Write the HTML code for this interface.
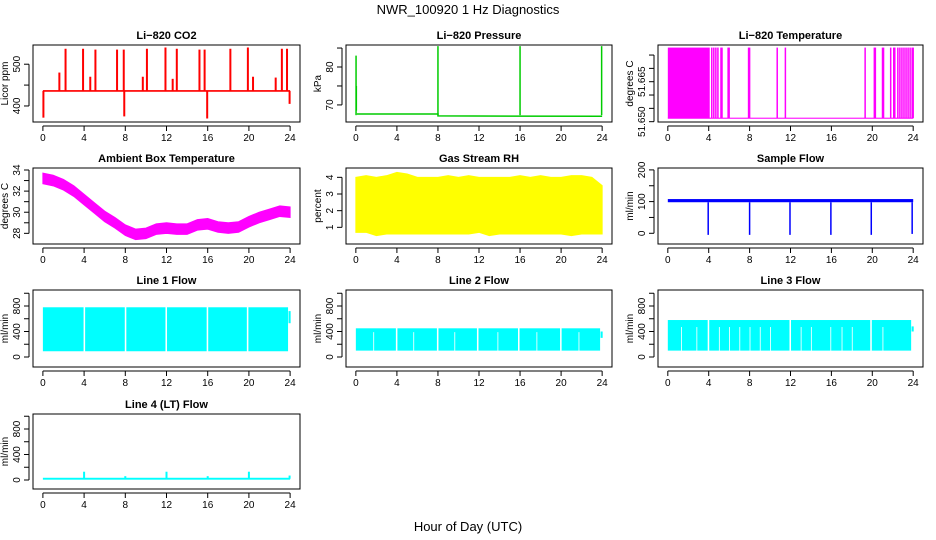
<!DOCTYPE html>
<html><head><meta charset="utf-8"><style>
html,body{margin:0;padding:0;background:#fff}
svg{display:block}
text{font-family:"Liberation Sans",Arial,sans-serif;fill:#000}
</style></head><body>
<svg id="chart" width="936" height="540" viewBox="0 0 936 540" xmlns="http://www.w3.org/2000/svg">
<text x="468" y="14" text-anchor="middle" font-size="13">NWR_100920  1 Hz Diagnostics</text>
<text x="468" y="531" text-anchor="middle" font-size="13">Hour of Day (UTC)</text>
</svg>
<script>
// ---- data ----
const xTicks = [0,4,8,12,16,20,24];
const co2Base = 436;
const co2SpikeHours = [1.6,2.2,3.9,4.6,5.1,7.2,7.85,9.7,10.1,11.9,12.6,13.0,15.2,15.7,18.2,19.9,20.4,22.6,23.2,23.7];
const co2SpikeValues = [480,537,537,470,535,535,535,470,537,540,465,537,535,535,537,540,470,468,537,537];
const co2DipHours = [0.05,7.9,15.95,23.95];
const co2DipValues = [372,375,370,405];
const pressHours = [0.1,8,8,24];
const pressValues = [67.6,67.6,67.1,67.0];
const pressSpikeHours = [0.02,8.0,16.0,23.95];
const pressSpikeValues = [83,85.5,85.5,85.5];
const tempLow = 51.6513, tempHigh = 51.6778;
const tempDenseEnd = 4.1;
const tempSwitchHours = [4.3,4.5,4.7,4.9,5.2,5.3,5.9,6.0,7.9,8.0,10.7,11.5,19.3,20.2,20.3,21.0,21.1,21.8,22.1,22.2,22.5,22.7,22.9,23.1,23.3,23.5,23.7,23.9,24.0];
const ambHours = [0,1,2,3,4,5,6,7,8,9,10,11,12,13,14,15,16,17,18,19,20,21,22,23,24];
const ambValues = [33.2,33.0,32.6,32.0,31.2,30.4,29.6,29.0,28.3,27.9,28.0,28.4,28.5,28.4,28.4,28.8,28.9,28.6,28.5,28.6,29.1,29.5,29.8,30.1,30.0];
const rhUpper = [4.0,4.1,4.0,4.1,4.3,4.2,4.0,4.0,4.0,4.1,4.0,4.1,4.0,4.0,4.0,4.0,4.1,4.0,4.1,4.0,4.0,4.1,4.1,4.0,3.5];
const rhLower = [0.7,0.7,0.5,0.6,0.6,0.6,0.6,0.6,0.6,0.6,0.6,0.6,0.7,0.5,0.6,0.6,0.6,0.6,0.6,0.6,0.6,0.5,0.6,0.6,0.6];
const sampleLow = 98, sampleHigh = 108;
const sampleDipHours = [3.95,8.0,11.95,15.95,19.9,23.9];
const sampleDipValues = [-5,-5,-5,-5,-5,-2];
const flowBottoms = [90,100,100];
const flowTops = [780,450,580];
const flowInner = [780,400,480];
const flowFullGaps = [[3.95,7.95,11.9,15.9,19.8],[3.9,7.9,11.8,15.8,19.9],[3.9,11.9,19.8]];
const flowThinGaps = [[],[1.7,5.6,9.6,13.8,17.6,21.7],[1.3,2.8,5.0,6.0,7.0,8.0,9.0,10.0,13.0,14.0,15.9,17.0,18.0,21.0]];
const flowEnd = [[530,720],[300,400],[400,480]];
const lt4Base = 20;
const lt4SpikeHours = [4.0,8.0,12.0,16.0,20.0,23.95];
const lt4SpikeValues = [130,60,130,60,130,70];

// ---- layout ----
const NS = 'http://www.w3.org/2000/svg';
const svg = document.getElementById('chart');
const colL = [33,346,658], colR = [300,612,923];
const rowT = [45,168,290,414], rowB = [122,244,367,489];
function el(tag, attrs, parent){ const e=document.createElementNS(NS,tag); for(const k in attrs) e.setAttribute(k,attrs[k]); (parent||svg).appendChild(e); return e; }

function panel(name,col,row,title,ylab,ymin,ymax,yticks,ylabels){
  const L=colL[col],R=colR[col],T=rowT[row],B=rowB[row];
  const g=el('g',{});
  
  
  const w=R-L;
  const x=h=>L+(h+0.96)*(w/25.92);
  const y=v=>B-(v-ymin)/(ymax-ymin)*(B-T);
  const dg=el('g',{},g);
  
  
  const t=el('text',{x:(L+R)/2,y:T-6,'text-anchor':'middle','font-size':'11','font-weight':'bold'},g);
  t.textContent=title;
  
  
  const box=el('rect',{x:L,y:T,width:w,height:B-T,fill:'none',stroke:'#000','stroke-width':1},g);
  
  
  const xa=el('g',{},g);
  
  
  el('line',{x1:x(0),x2:x(24),y1:B+4,y2:B+4,stroke:'#000'},xa);
  xTicks.forEach(h=>{
    el('line',{x1:x(h),x2:x(h),y1:B+4,y2:B+9,stroke:'#000'},xa);
    const tl=el('text',{x:x(h),y:B+19,'text-anchor':'middle','font-size':'10'},xa);
    tl.textContent=h;
    
    
  });
  const ya=el('g',{},g);
  
  
  const yt=yticks.filter(v=>v>=ymin&&v<=ymax+1e-9);
  el('line',{x1:L-4,x2:L-4,y1:y(yt[0]),y2:y(yt[yt.length-1]),stroke:'#000'},ya);
  yt.forEach(v=>el('line',{x1:L-9,x2:L-4,y1:y(v),y2:y(v),stroke:'#000'},ya));
  ylabels.forEach(v=>{
    const yy=y(v);
    const tl=el('text',{x:L-13,y:yy,'text-anchor':'middle','font-size':'10',transform:'rotate(-90 '+(L-13)+' '+yy+')'},ya);
    tl.textContent=(typeof v==='number'&&v>51&&v<52)?v.toFixed(3):v;
    
    
  });
  const yl=el('text',{x:L-25,y:(T+B)/2,'text-anchor':'middle','font-size':'10',transform:'rotate(-90 '+(L-25)+' '+((T+B)/2)+')'},g);
  yl.textContent=ylab;
  
  
  return {x,y,g:dg};
}
function vline(p,h,v1,v2,color,wd){ const l=el('line',{x1:p.x(h),x2:p.x(h),y1:p.y(v1),y2:p.y(v2),stroke:color,'stroke-width':wd||1.5},p.g); return l; }
function band(p,h1,h2,v1,v2,color){ const r=el('rect',{x:p.x(h1),y:p.y(v2),width:p.x(h2)-p.x(h1),height:p.y(v1)-p.y(v2),fill:color},p.g); return r; }

// CO2
let p=panel('co2',0,0,'Li\u2212820 CO2','Licor ppm',361.6,546,[400,450,500],[400,500]);
band(p,0,24,co2Base-2,co2Base+2,'#ff0000');
co2SpikeHours.forEach((h,i)=>vline(p,h,co2Base,co2SpikeValues[i],'#ff0000',2));
co2DipHours.forEach((h,i)=>vline(p,h,co2Base,co2DipValues[i],'#ff0000',2));

// Pressure
p=panel('pressure',1,0,'Li\u2212820 Pressure','kPa',65.5,85.8,[70,75,80,85],[70,80]);
{ let d=''; pressHours.forEach((h,i)=>{d+=(i?'L':'M')+p.x(h)+' '+p.y(pressValues[i]);});
  el('path',{d:d,fill:'none',stroke:'#00cc00','stroke-width':1.5},p.g); }
pressSpikeHours.forEach((h,i)=>vline(p,h,67.3,pressSpikeValues[i],'#00cc00',1.5));
band(p,0,0.12,68.5,75,'#00cc00');

// Temperature
p=panel('li820-temperature',2,0,'Li\u2212820 Temperature','degrees C',51.64988,51.67877,[51.650,51.655,51.660,51.665,51.670,51.675],[51.650,51.665]);
band(p,0,24,tempLow-0.0002,tempLow+0.0002,'#ff00ff');
band(p,0,tempDenseEnd,tempLow,tempHigh,'#ff00ff');
tempSwitchHours.forEach(h=>vline(p,h,tempLow,tempHigh,'#ff00ff',1.5));

// Ambient
p=panel('ambient-temperature',0,1,'Ambient Box Temperature','degrees C',26.99,34.19,[28,29,30,31,32,33,34],[28,30,32,34]);
{ let d=''; ambHours.forEach((h,i)=>{d+=(i?'L':'M')+p.x(h)+' '+p.y(ambValues[i]+0.5);});
  for(let i=ambHours.length-1;i>=0;i--) d+='L'+p.x(ambHours[i])+' '+p.y(ambValues[i]-0.5);
  el('path',{d:d+'Z',fill:'#ff00ff',stroke:'#ff00ff','stroke-width':1},p.g); }

// RH
p=panel('gas-stream-rh',1,1,'Gas Stream RH','percent',0,4.56,[1,2,3,4],[1,2,3,4]);
{ let d=''; rhUpper.forEach((v,i)=>{d+=(i?'L':'M')+p.x(i)+' '+p.y(v);});
  for(let i=rhLower.length-1;i>=0;i--) d+='L'+p.x(i)+' '+p.y(rhLower[i]);
  el('path',{d:d+'Z',fill:'#ffff00',stroke:'#ffff00'},p.g); }

// Sample flow
p=panel('sample-flow',2,1,'Sample Flow','ml/min',-33.8,206,[0,50,100,150,200],[0,100,200]);
band(p,0,24,sampleLow,sampleHigh,'#0000ff');
sampleDipHours.forEach((h,i)=>vline(p,h,sampleLow,sampleDipValues[i],'#0000ff',1.5));

// Line flows
const flowNames=['Line 1 Flow','Line 2 Flow','Line 3 Flow'];
[0,1,2].forEach(k=>{
  const q=panel('line-'+(k+1)+'-flow',k,2,flowNames[k],'ml/min',-157,1051,[0,200,400,600,800,1000],[0,400,800]);
  band(q,0,23.8,flowBottoms[k],flowTops[k],'#00ffff');
  flowFullGaps[k].forEach(h=>{ band(q,h,h+0.15,flowBottoms[k]-5,flowTops[k]+5,'#ffffff'); });
  flowThinGaps[k].forEach(h=>{ band(q,h,h+0.08,flowBottoms[k]-5,flowInner[k]-(k===0?0:10),'#ffffff'); });
  band(q,23.85,24.05,flowEnd[k][0],flowEnd[k][1],'#00ffff');
});

// Line 4
p=panel('line-4-flow',0,3,'Line 4 (LT) Flow','ml/min',-141,1035,[0,200,400,600,800,1000],[0,400,800]);
band(p,0,24,lt4Base-15,lt4Base+15,'#00ffff');
lt4SpikeHours.forEach((h,i)=>vline(p,h,lt4Base,lt4SpikeValues[i],'#00ffff',2));
</script>
</body></html>
